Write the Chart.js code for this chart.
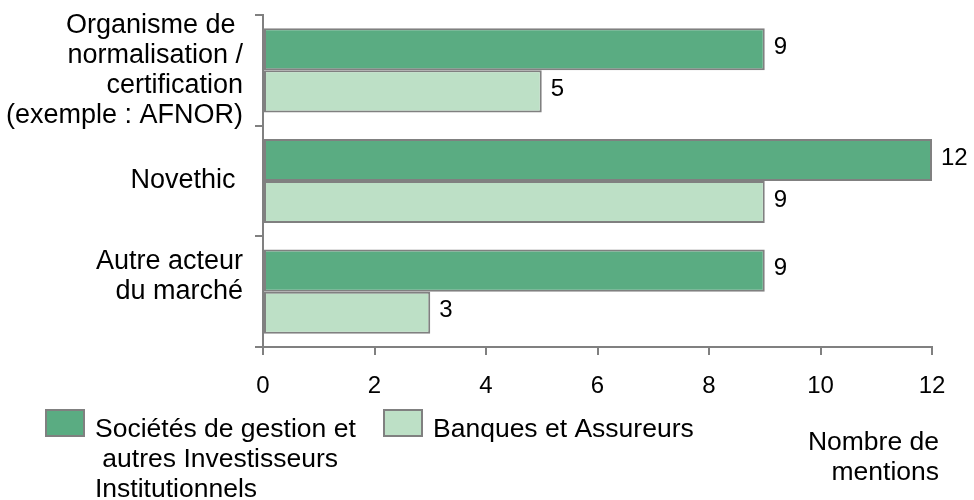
<!DOCTYPE html>
<html>
<head>
<meta charset="utf-8">
<script src="https://cdn.jsdelivr.net/npm/chart.js@4/dist/chart.umd.min.js"></script>
<style>
  html, body { margin: 0; padding: 0; background: #ffffff; }
  #wrap { width: 974px; height: 500px; position: relative; }
</style>
</head>
<body>
<div id="wrap"><canvas id="c" width="974" height="500"></canvas></div>
<script>
// ---- data ----
const categories = [
  ["Organisme de ", "normalisation /", "certification", "(exemple : AFNOR)"],
  ["Novethic "],
  ["Autre acteur", "du marché", ""]
];
const seriesNames = [
  ["Sociétés de gestion et", " autres Investisseurs", "Institutionnels"],
  ["Banques et Assureurs"]
];
const societesValues = [9, 12, 9];
const banquesValues = [5, 9, 3];
const xTicks = [0, 2, 4, 6, 8, 10, 12];
const axisTitle = ["Nombre de", "mentions"];

const FONT = "'Liberation Sans', Arial, sans-serif";
const GREY = '#808080';
const DARK = '#5aac82';
const LIGHT = '#bde0c6';

const valueLabels = {
  id: 'valueLabels',
  afterDatasetsDraw(chart) {
    const ctx = chart.ctx;
    ctx.save();
    ctx.font = '24px ' + FONT;
    ctx.fillStyle = '#000';
    ctx.textAlign = 'left';
    ctx.textBaseline = 'middle';
    chart.data.datasets.forEach((ds, di) => {
      const meta = chart.getDatasetMeta(di);
      meta.data.forEach((bar, i) => {
        ctx.fillText(String(ds.data[i]), bar.x + 9, bar.y - 2);
      });
    });
    ctx.restore();
  }
};

const customLegend = {
  id: 'customLegend',
  afterDraw(chart) {
    const ctx = chart.ctx;
    ctx.save();
    ctx.font = '26.5px ' + FONT;
    ctx.fillStyle = '#000';
    ctx.textBaseline = 'alphabetic';
    const boxes = [{x: 45, y: 409}, {x: 383, y: 409}];
    chart.data.datasets.forEach((ds, di) => {
      const b = boxes[di];
      ctx.fillStyle = ds.backgroundColor;
      ctx.fillRect(b.x, b.y, 40, 28);
      ctx.strokeStyle = GREY;
      ctx.lineWidth = 2;
      ctx.strokeRect(b.x + 1, b.y + 1, 38, 26);
      ctx.fillStyle = '#000';
      ctx.textAlign = 'left';
      seriesNames[di].forEach((line, li) => {
        ctx.fillText(line, b.x + 50, 437 + li * 30);
      });
    });
    ctx.textAlign = 'right';
    axisTitle.forEach((line, li) => {
      ctx.fillText(line, 939, 450 + li * 30);
    });
    ctx.restore();
  }
};

new Chart(document.getElementById('c'), {
  type: 'bar',
  data: {
    labels: categories,
    datasets: [
      {
        label: seriesNames[0].join(' '),
        data: societesValues,
        backgroundColor: DARK,
        borderColor: GREY,
        borderWidth: 2,
        borderSkipped: false,
        barPercentage: 1,
        categoryPercentage: 0.76
      },
      {
        label: seriesNames[1].join(' '),
        data: banquesValues,
        backgroundColor: LIGHT,
        borderColor: GREY,
        borderWidth: 2,
        borderSkipped: false,
        barPercentage: 1,
        categoryPercentage: 0.76
      }
    ]
  },
  options: {
    indexAxis: 'y',
    responsive: false,
    devicePixelRatio: 1,
    animation: false,
    layout: { padding: { top: 15, right: 42, bottom: 0, left: 0 } },
    plugins: {
      legend: { display: false },
      tooltip: { enabled: false },
      title: { display: false }
    },
    scales: {
      x: {
        type: 'linear',
        min: 0,
        max: 12,
        afterBuildTicks(scale) { scale.ticks = xTicks.map(v => ({ value: v })); },
        ticks: {
          color: '#000',
          font: { family: FONT, size: 24 },
          padding: 17,
          maxRotation: 0
        },
        grid: {
          display: true,
          drawOnChartArea: false,
          drawTicks: true,
          tickLength: 8,
          color: GREY,
          lineWidth: 2
        },
        border: { display: true, color: GREY, width: 2 },
        afterFit(scale) {
          scale.height = 153;
          scale.paddingLeft = 0;
          scale.paddingRight = 0;
        }
      },
      y: {
        type: 'category',
        offset: true,
        ticks: {
          color: '#000',
          font: { family: FONT, size: 27, lineHeight: '30px' },
          padding: 12,
          autoSkip: false
        },
        grid: {
          display: true,
          offset: true,
          drawOnChartArea: false,
          drawTicks: true,
          tickLength: 8,
          color: GREY,
          lineWidth: 2
        },
        border: { display: true, color: GREY, width: 2 },
        afterFit(scale) {
          scale.width = 263;
          scale.paddingTop = 0;
          scale.paddingBottom = 0;
        }
      }
    }
  },
  plugins: [valueLabels, customLegend]
});
</script>
</body>
</html>
